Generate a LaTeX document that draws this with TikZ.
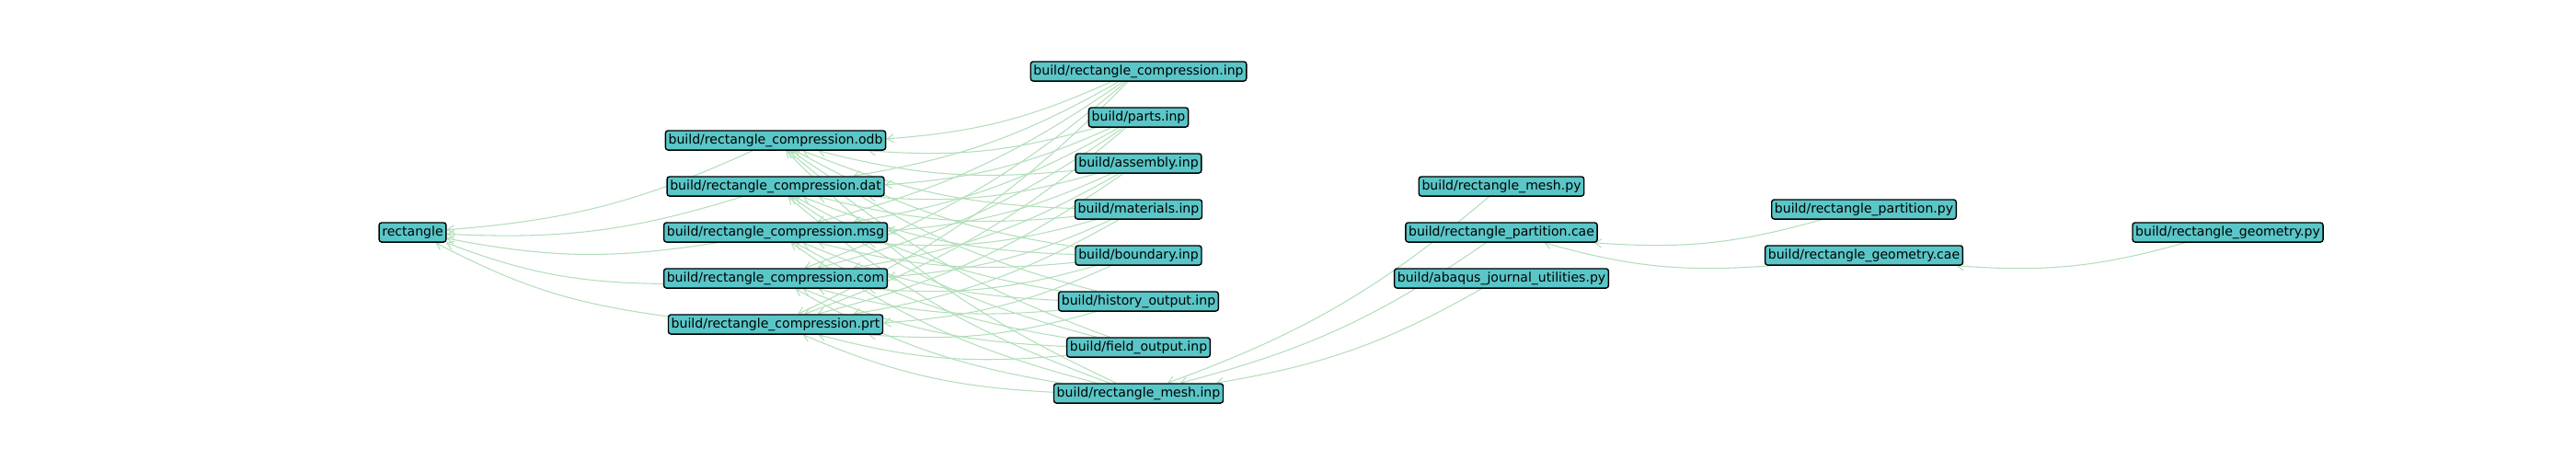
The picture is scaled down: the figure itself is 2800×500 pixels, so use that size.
\documentclass[tikz,border=0pt]{standalone}
\usepackage{fontspec}
\setmainfont{DejaVu Sans}
\usetikzlibrary{arrows.meta,backgrounds}
\definecolor{nodefill}{RGB}{90,198,200}
\definecolor{edgegreen}{RGB}{178,222,186}

\begin{document}
\begin{tikzpicture}[x=0.025cm,y=-0.025cm,
  file/.style={draw=black,fill=nodefill,rounded corners=2pt,line width=1pt,
    font=\fontsize{10}{12}\selectfont,inner xsep=2.3pt,inner ysep=2pt,
    minimum height=15pt,text height=7.4pt,text depth=2.2pt},
  dep/.style={draw=edgegreen,line width=0.75pt,
    -{Straight Barb[length=5pt,width=6.5pt]},bend left=10}]
\useasboundingbox (0,0) rectangle (2800,500);
\node[file] (rect) at (448.5,252.5) {rectangle};
\node[file] (odb) at (843,152.5) {build/rectangle\_compression.odb};
\node[file] (dat) at (843,202.5) {build/rectangle\_compression.dat};
\node[file] (msg) at (843,252.5) {build/rectangle\_compression.msg};
\node[file] (com) at (843,302.5) {build/rectangle\_compression.com};
\node[file] (prt) at (843,352.5) {build/rectangle\_compression.prt};
\node[file] (cinp) at (1237.5,77.5) {build/rectangle\_compression.inp};
\node[file] (parts) at (1237.5,127.5) {build/parts.inp};
\node[file] (asm) at (1237.5,177.5) {build/assembly.inp};
\node[file] (mat) at (1237.5,227.5) {build/materials.inp};
\node[file] (bnd) at (1237.5,277.5) {build/boundary.inp};
\node[file] (hist) at (1237.5,327.5) {build/history\_output.inp};
\node[file] (field) at (1237.5,377.5) {build/field\_output.inp};
\node[file] (minp) at (1237.5,427.5) {build/rectangle\_mesh.inp};
\node[file] (mpy) at (1632,202.5) {build/rectangle\_mesh.py};
\node[file] (pcae) at (1632,252.5) {build/rectangle\_partition.cae};
\node[file] (jnl) at (1632,302.5) {build/abaqus\_journal\_utilities.py};
\node[file] (ppy) at (2026,227.5) {build/rectangle\_partition.py};
\node[file] (gcae) at (2026,277.5) {build/rectangle\_geometry.cae};
\node[file] (gpy) at (2421.5,252.5) {build/rectangle\_geometry.py};
\begin{scope}[on background layer]
\foreach \t in {odb,dat,msg,com,prt}
  \draw[dep] (\t) to (rect);
\foreach \s in {cinp,parts,asm,mat,bnd,hist,field,minp}
  \foreach \t in {odb,dat,msg,com,prt}
    \draw[dep] (\s) to (\t);
\foreach \s in {mpy,pcae,jnl}
  \draw[dep] (\s) to (minp);
\draw[dep] (ppy) to (pcae);
\draw[dep] (gcae) to (pcae);
\draw[dep] (gpy) to (gcae);
\end{scope}
\end{tikzpicture}
\end{document}
